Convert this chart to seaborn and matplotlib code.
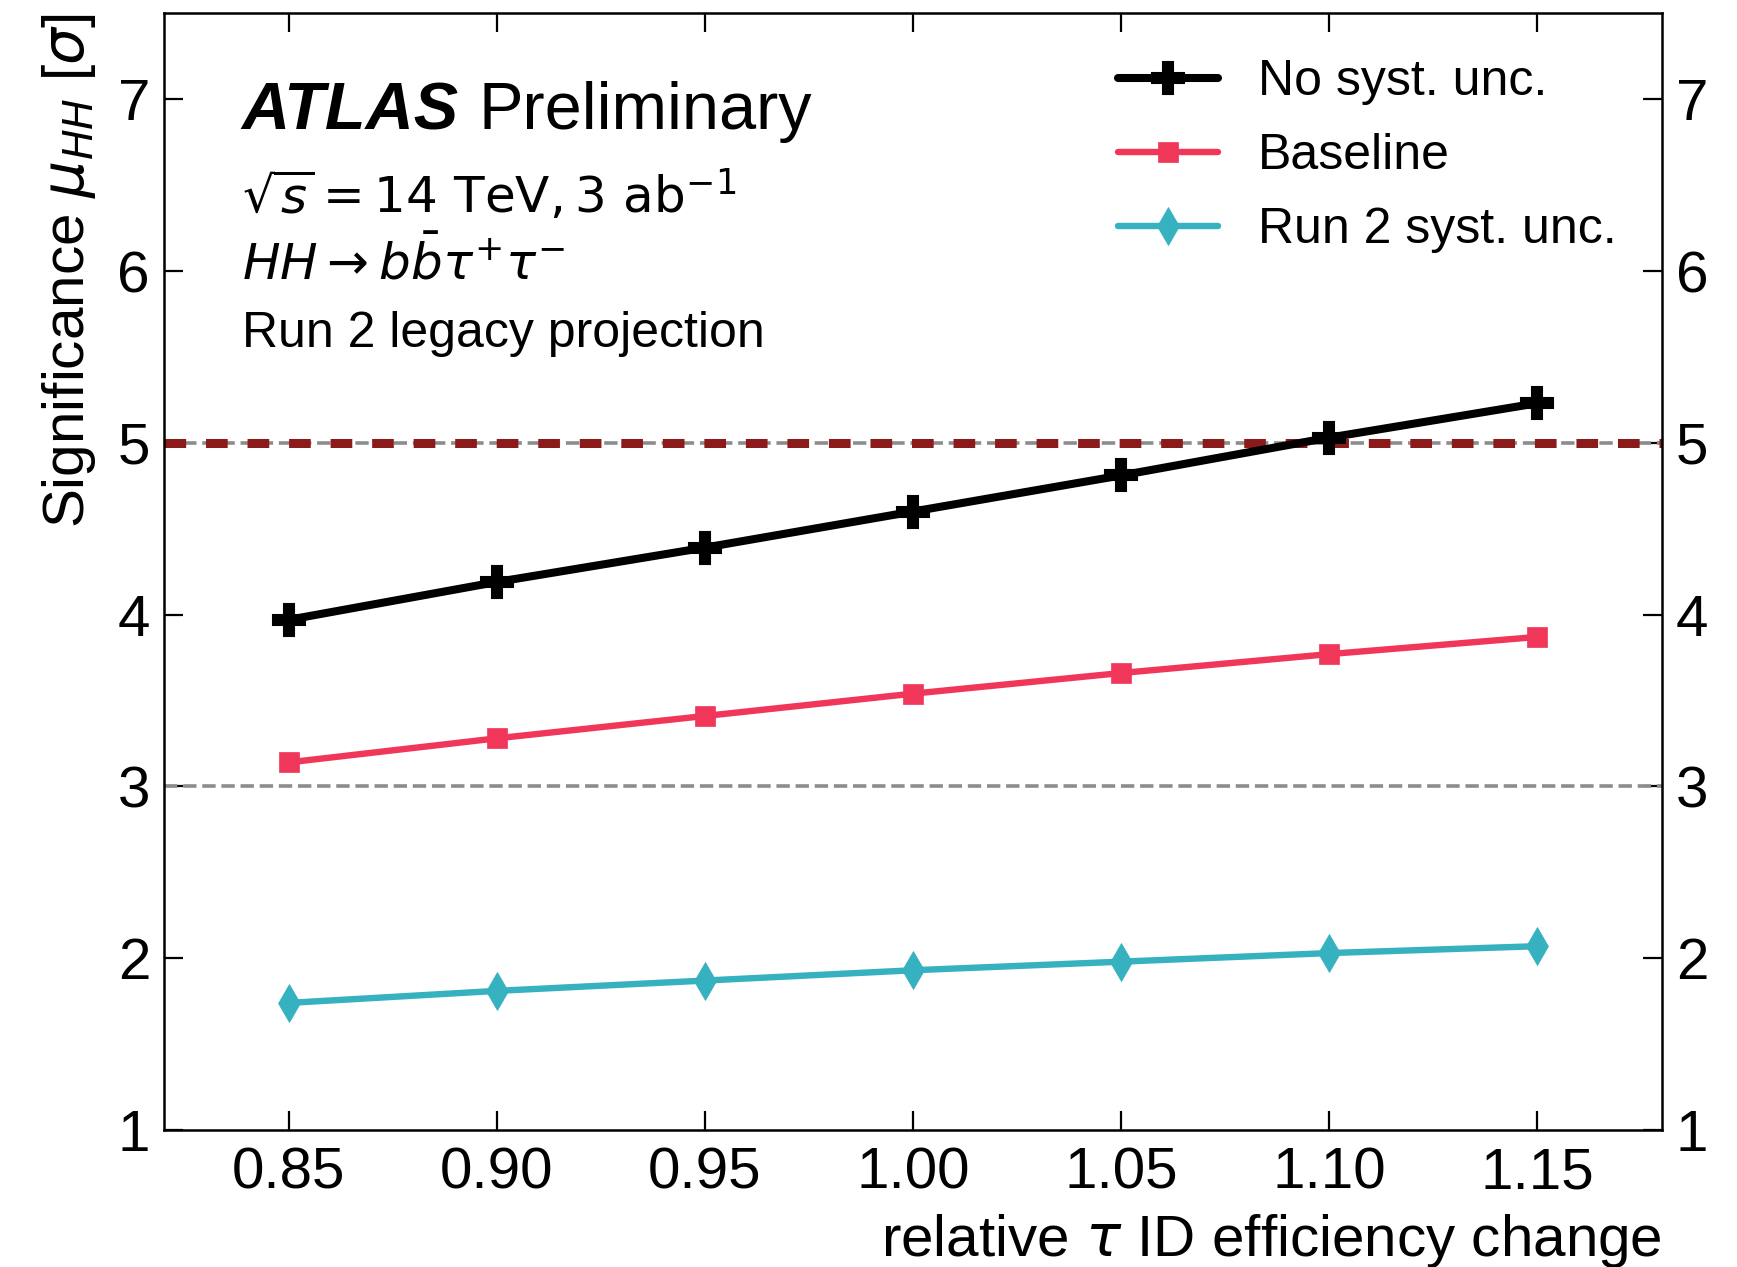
import matplotlib
matplotlib.use("Agg")
import matplotlib.pyplot as plt
import seaborn as sns
import pandas as pd

# Relative tau ID efficiency scan points
efficiency = [0.85, 0.90, 0.95, 1.00, 1.05, 1.10, 1.15]

# Expected HH significance for each systematics scenario
sig_no_syst = [3.97, 4.19, 4.39, 4.60, 4.81, 5.03, 5.23]
sig_baseline = [3.14, 3.28, 3.41, 3.54, 3.66, 3.77, 3.87]
sig_run2_syst = [1.74, 1.81, 1.87, 1.93, 1.98, 2.03, 2.07]

series_labels = ["No syst. unc.", "Baseline", "Run 2 syst. unc."]
xtick_labels = ["0.85", "0.90", "0.95", "1.00", "1.05", "1.10", "1.15"]
ytick_values = [1, 2, 3, 4, 5, 6, 7]

sns.set_style("ticks")
plt.rcParams["font.family"] = ["Liberation Sans", "DejaVu Sans"]
plt.rcParams["mathtext.fontset"] = "dejavusans"
for key in ["text.color", "axes.labelcolor", "xtick.color", "ytick.color", "axes.edgecolor"]:
    plt.rcParams[key] = "black"

fig = plt.figure(figsize=(17.37, 12.67), dpi=100)
ax = fig.add_axes([0.0944, 0.1081, 0.9567 - 0.0944, 0.9895 - 0.1081])

# Reference lines at 3 and 5 sigma
ax.axhline(3, color="#8c8c8c", lw=2.6, ls="--", zorder=1)
ax.axhline(5, color="#8c8c8c", lw=2.6, ls="--", zorder=1)
ax.axhline(5, color="#8b1a1a", lw=6.5, dashes=(2.4, 2.2), zorder=1.5)

df = pd.DataFrame({
    "eff": efficiency * 3,
    "sig": sig_no_syst + sig_baseline + sig_run2_syst,
    "scenario": [series_labels[0]] * 7 + [series_labels[1]] * 7 + [series_labels[2]] * 7,
})

styles = {
    series_labels[0]: dict(color="black", marker="P", markersize=23, linewidth=5.8, markeredgewidth=1.5),
    series_labels[1]: dict(color="#f0375a", marker="s", markersize=14, linewidth=4.6, markeredgewidth=0.5),
    series_labels[2]: dict(color="#35b1bf", marker="d", markersize=19, linewidth=4.6, markeredgewidth=0.5),
}

for name in series_labels:
    sub = df[df["scenario"] == name]
    st = styles[name]
    sns.lineplot(data=sub, x="eff", y="sig", ax=ax, label=name,
                 color=st["color"], marker=st["marker"], markersize=st["markersize"],
                 linewidth=st["linewidth"], markeredgecolor=st["color"],
                 markeredgewidth=st["markeredgewidth"], zorder=3)

ax.set_xlim(0.82, 1.18)
ax.set_ylim(1, 7.5)
ax.set_xticks(efficiency)
ax.set_xticklabels(xtick_labels)
ax.set_yticks(ytick_values)
ax.tick_params(axis="both", which="major", direction="in", length=14, width=1.6,
               labelsize=42, top=True, right=True, labelright=True, pad=10)
ax.tick_params(axis="x", pad=12)
ax.minorticks_off()
for sp in ax.spines.values():
    sp.set_linewidth(1.8)

ax.set_xlabel(r"relative $\tau$ ID efficiency change", fontsize=42, loc="right", labelpad=8)
ax.set_ylabel(r"Significance $\mu_{HH}$ [$\sigma$]", fontsize=42, loc="top", labelpad=14)

leg = ax.legend(loc="upper right", frameon=False, fontsize=36, handlelength=2.0,
                handletextpad=0.8, labelspacing=0.56, bbox_to_anchor=(0.993, 0.99),
                borderaxespad=0.3)

atlas = ax.text(0.052, 0.896, "ATLAS", transform=ax.transAxes, fontsize=48,
                fontweight="bold", fontstyle="italic", va="baseline", ha="left")
ax.annotate("Preliminary", xy=(1, 0), xycoords=atlas, xytext=(14, 0),
            textcoords="offset points", fontsize=48, va="bottom", ha="left")
ax.text(0.052, 0.821, r"$\sqrt{s} = 14\ \mathrm{TeV},3\ \mathrm{ab}^{-1}$",
        transform=ax.transAxes, fontsize=36, va="baseline", ha="left")
ax.text(0.052, 0.762, r"$HH \rightarrow b\bar{b}\tau^{+}\tau^{-}$",
        transform=ax.transAxes, fontsize=36, va="baseline", ha="left")
ax.text(0.052, 0.701, "Run 2 legacy projection", transform=ax.transAxes,
        fontsize=36, va="baseline", ha="left")

fig.savefig("out.png", dpi=100)
